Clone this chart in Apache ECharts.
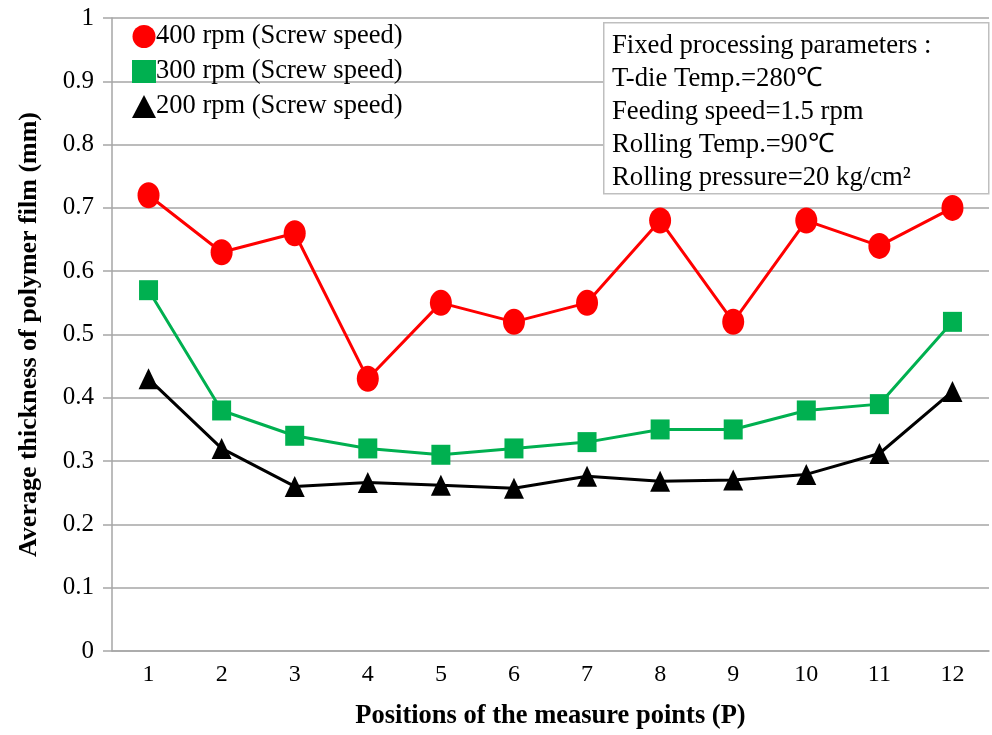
<!DOCTYPE html>
<html><head><meta charset="utf-8">
<script src="https://cdn.jsdelivr.net/npm/echarts@6/dist/echarts.min.js"></script>
<style>html,body{margin:0;padding:0;background:#fff}#c{width:992px;height:735px}</style>
</head><body><div id="c"></div>
<script>
const categories = ['1','2','3','4','5','6','7','8','9','10','11','12'];
const rpm400 = [0.72, 0.63, 0.66, 0.43, 0.55, 0.52, 0.55, 0.68, 0.52, 0.68, 0.64, 0.70];
const rpm300 = [0.57, 0.38, 0.34, 0.32, 0.31, 0.32, 0.33, 0.35, 0.35, 0.38, 0.39, 0.52];
const rpm200 = [0.43, 0.32, 0.26, 0.266, 0.262, 0.257, 0.276, 0.268, 0.27, 0.279, 0.312, 0.41];
const seriesNames = ['400 rpm (Screw speed)', '300 rpm (Screw speed)', '200 rpm (Screw speed)'];
const boxLines = ['Fixed processing parameters :', 'T-die Temp.=280℃', 'Feeding speed=1.5 rpm', 'Rolling Temp.=90℃', 'Rolling pressure=20 kg/cm²'];

const serif = 'Liberation Serif, Times New Roman, serif';
const chart = echarts.init(document.getElementById('c'));
chart.setOption({
  animation: false,
  backgroundColor: '#fff',
  grid: { left: 112, right: 3, top: 18, bottom: 83 },
  legend: {
    orient: 'vertical', left: 127, top: 18, itemGap: 8, itemWidth: 24, itemHeight: 23,
    textStyle: { fontFamily: serif, fontSize: 26.5, color: '#000', padding: [0,0,0,-5] },
    data: [
      { name: seriesNames[0], icon: 'circle' },
      { name: seriesNames[1], icon: 'rect' },
      { name: seriesNames[2], icon: 'triangle' }
    ]
  },
  xAxis: {
    type: 'category', data: categories, boundaryGap: true,
    name: 'Positions of the measure points (P)', nameLocation: 'middle', nameGap: 52,
    nameTextStyle: { fontFamily: serif, fontSize: 26.5, fontWeight: 'bold', color: '#000' },
    axisLine: { lineStyle: { color: '#a6a6a6', width: 1.5 } },
    axisTick: { show: false },
    axisLabel: { fontFamily: serif, fontSize: 24, color: '#000', margin: 12 },
    splitLine: { show: false }
  },
  yAxis: {
    type: 'value', min: 0, max: 1, interval: 0.1,
    name: 'Average thickness of polymer film (mm)', nameLocation: 'middle', nameGap: 70,
    nameTextStyle: { fontFamily: serif, fontSize: 26, fontWeight: 'bold', color: '#000' },
    axisLine: { show: true, lineStyle: { color: '#a6a6a6', width: 1.5 } },
    axisTick: { show: true, length: 9, lineStyle: { color: '#a6a6a6', width: 1.5 } },
    axisLabel: { fontFamily: serif, fontSize: 25, color: '#000', margin: 18,
      formatter: v => (Math.round(v*10)/10).toString() },
    splitLine: { lineStyle: { color: '#a6a6a6', width: 1.5 } }
  },
  series: [
    { name: seriesNames[0], type: 'line', data: rpm400, symbol: 'circle', symbolSize: [22, 26],
      itemStyle: { color: '#ff0000' }, lineStyle: { color: '#ff0000', width: 3 } },
    { name: seriesNames[1], type: 'line', data: rpm300, symbol: 'rect', symbolSize: [19, 20],
      itemStyle: { color: '#00b050' }, lineStyle: { color: '#00b050', width: 3 } },
    { name: seriesNames[2], type: 'line', data: rpm200, symbol: 'triangle', symbolSize: [20, 21],
      itemStyle: { color: '#000000' }, lineStyle: { color: '#000000', width: 3 } }
  ],
  graphic: [
    { type: 'rect', left: 603, top: 22, shape: { width: 385, height: 171 },
      style: { fill: '#fff', stroke: '#bfbfbf', lineWidth: 1.5 }, z: 100 },
    { type: 'text', left: 612, top: 29, z: 101,
      style: { text: boxLines.join('\n'), fontFamily: serif, fontSize: 26.7, lineHeight: 33.2, fill: '#000' } }
  ]
});
</script></body></html>
